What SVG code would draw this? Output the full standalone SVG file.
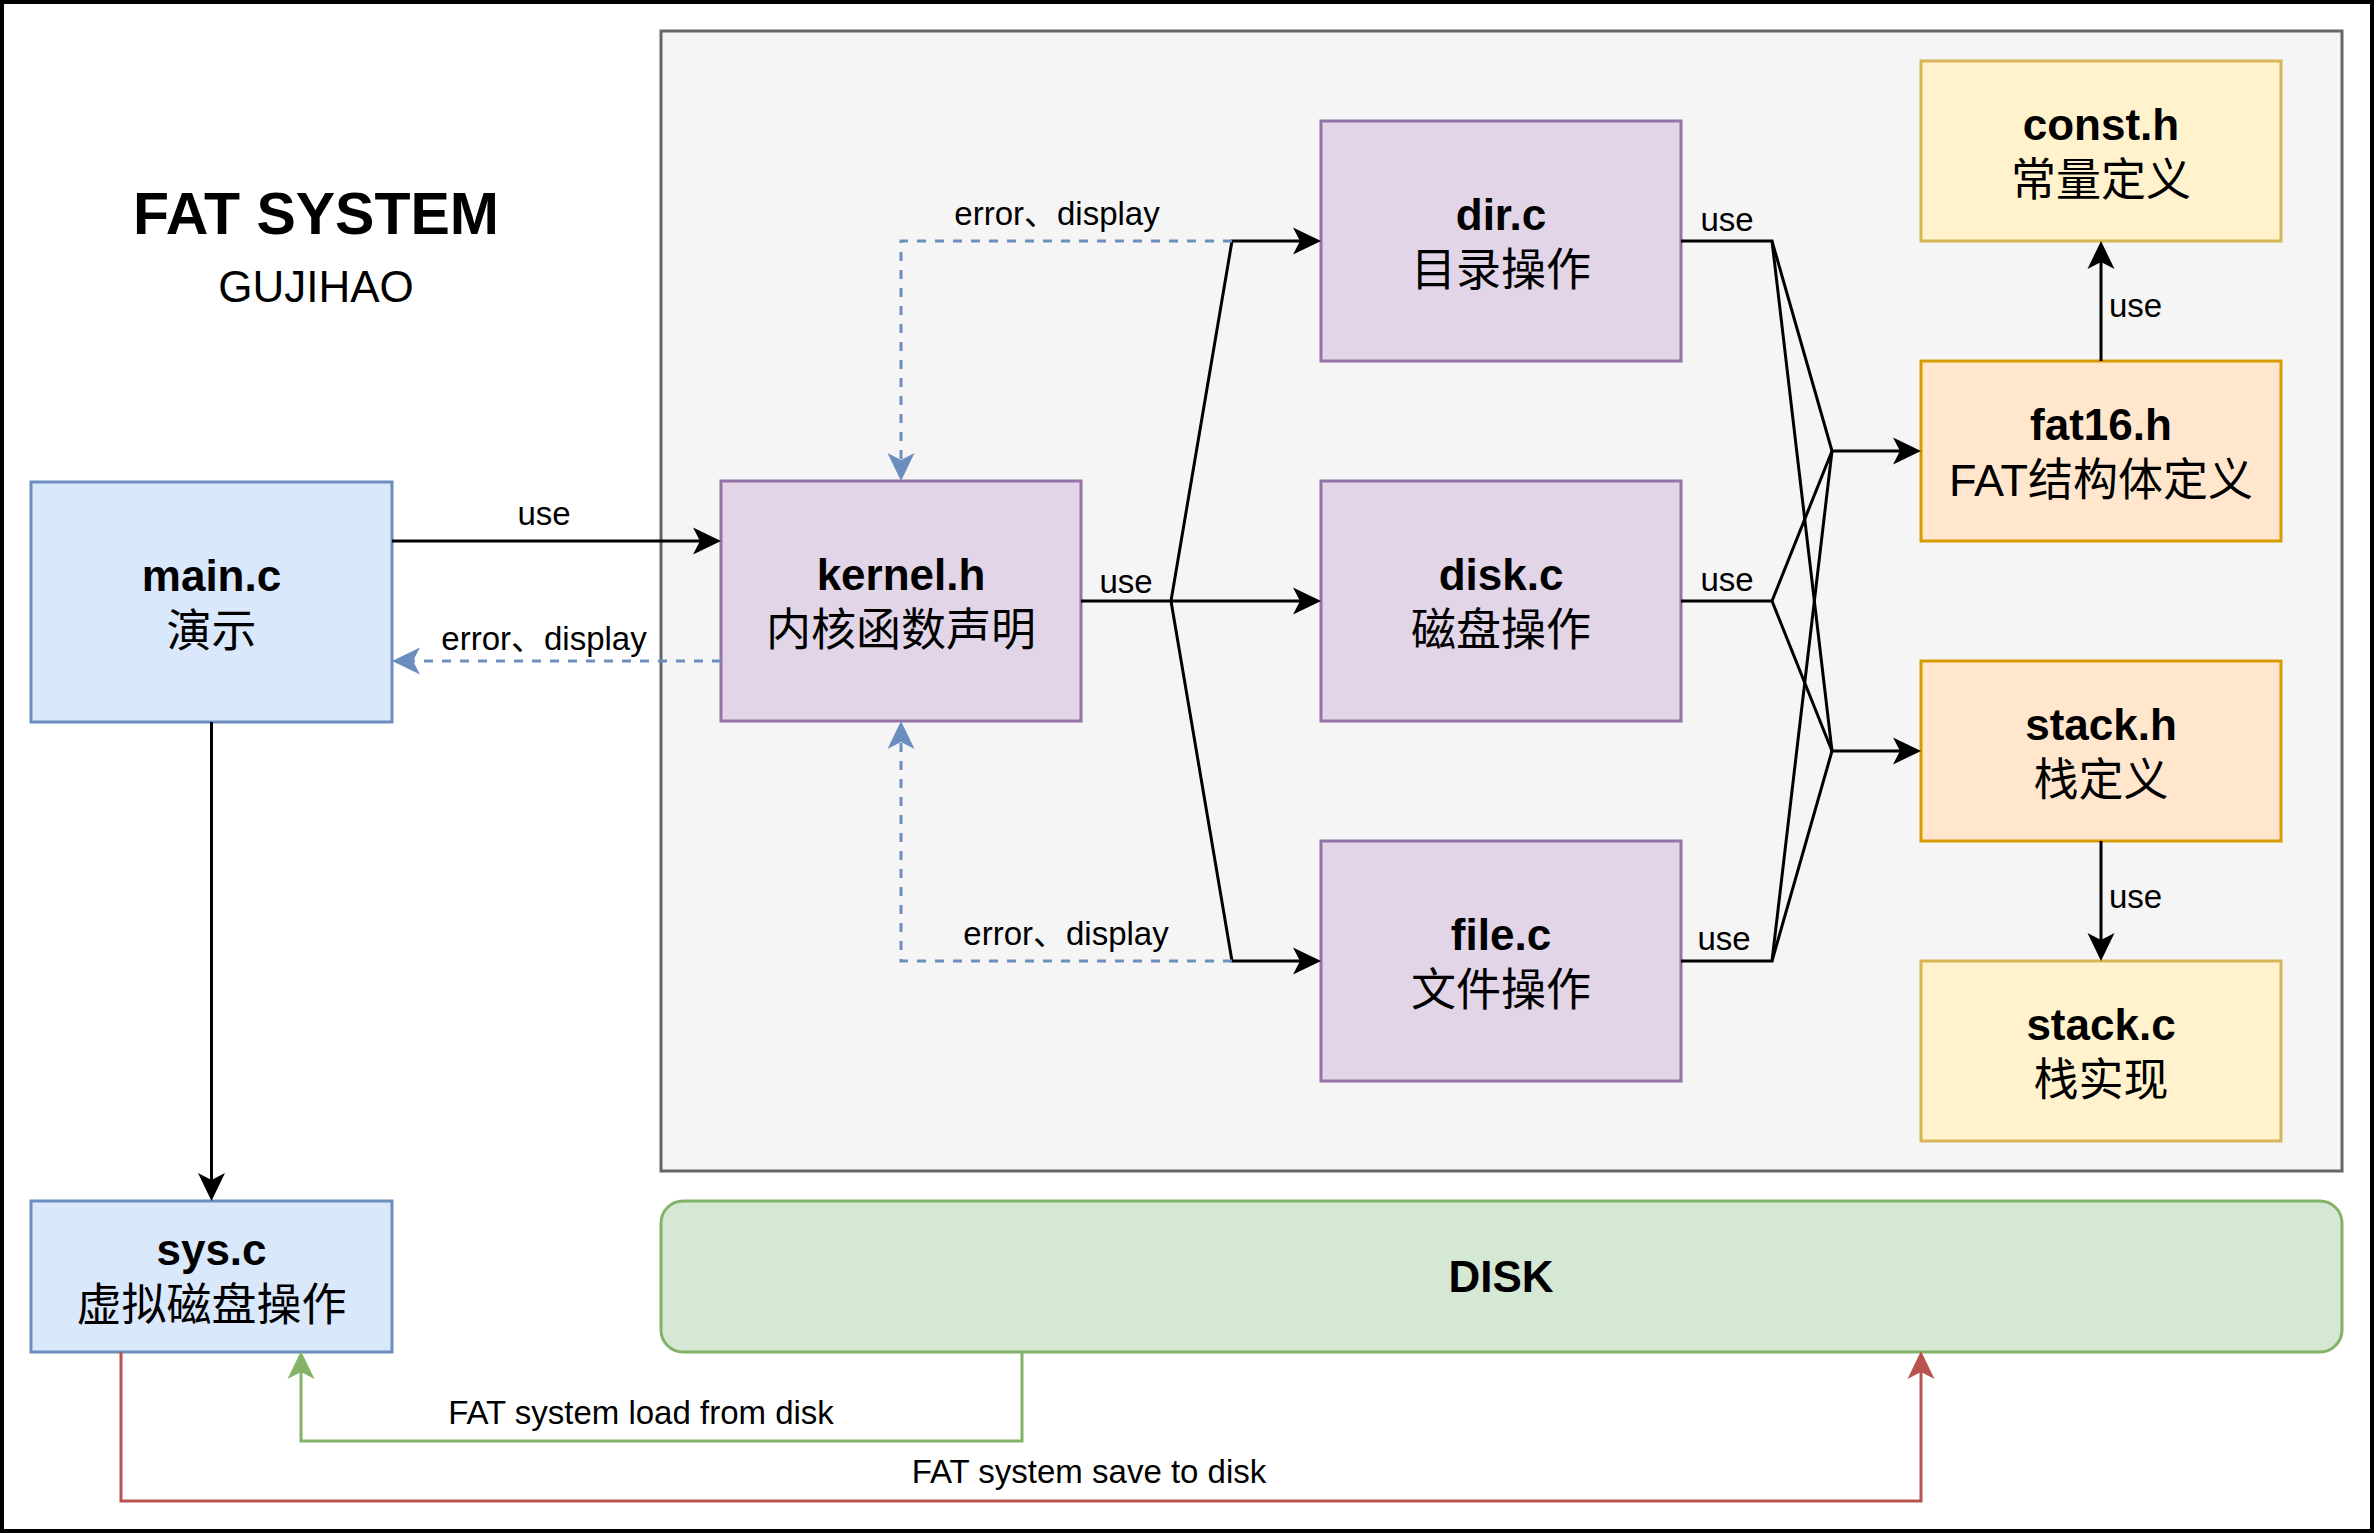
<svg xmlns="http://www.w3.org/2000/svg" width="2376" height="1533" viewBox="0 0 2376 1533">
<defs>
<style>
.t{font-family:"Liberation Sans","Noto Sans CJK SC",sans-serif;fill:#000}
.nb{font-size:44px;font-weight:bold;text-anchor:middle}
.nz{font-size:45px;text-anchor:middle;font-family:"Liberation Sans","Noto Sans CJK SC",sans-serif}
.lbl{font-size:33px}
.mid{text-anchor:middle}
.e{fill:none;stroke:#000;stroke-width:3}
.eb{fill:none;stroke:#6c8ebf;stroke-width:3;stroke-dasharray:9 9}
.purple{fill:#e1d5e7;stroke:#9673a6;stroke-width:3}
.blue{fill:#dae8fc;stroke:#6c8ebf;stroke-width:3}
.yellow{fill:#fff2cc;stroke:#d6b656;stroke-width:3}
.orange{fill:#ffe6cc;stroke:#d79b00;stroke-width:3}
</style>
<marker id="ak" viewBox="0 0 28 28" refX="20" refY="14" markerWidth="28" markerHeight="28" markerUnits="userSpaceOnUse" orient="auto"><path d="M28,14 L0,0.5 L7,14 L0,27.5 Z" fill="#000"/></marker>
<marker id="ab" viewBox="0 0 28 28" refX="20" refY="14" markerWidth="28" markerHeight="28" markerUnits="userSpaceOnUse" orient="auto"><path d="M28,14 L0,0.5 L7,14 L0,27.5 Z" fill="#6c8ebf"/></marker>
<marker id="ag" viewBox="0 0 28 28" refX="20" refY="14" markerWidth="28" markerHeight="28" markerUnits="userSpaceOnUse" orient="auto"><path d="M28,14 L0,0.5 L7,14 L0,27.5 Z" fill="#82b366"/></marker>
<marker id="ar" viewBox="0 0 28 28" refX="20" refY="14" markerWidth="28" markerHeight="28" markerUnits="userSpaceOnUse" orient="auto"><path d="M28,14 L0,0.5 L7,14 L0,27.5 Z" fill="#b85450"/></marker>
</defs>
<rect x="0" y="0" width="2376" height="1533" fill="#ffffff"/>
<rect x="2" y="2" width="2370" height="1529" fill="none" stroke="#000" stroke-width="4"/>

<g id="container">
<rect x="661" y="31" width="1681" height="1140" fill="#f5f5f5" stroke="#666666" stroke-width="3"/>
</g>

<g id="title">
<text class="t" x="316" y="234" font-size="59" font-weight="bold" text-anchor="middle">FAT SYSTEM</text>
<text class="t" x="316" y="302" font-size="44" text-anchor="middle">GUJIHAO</text>
</g>

<g id="main">
<rect class="blue" x="31" y="482" width="361" height="240"/>
<text class="t nb" x="211.5" y="591">main.c</text>
<text class="nz" x="211.5" y="647">演示</text>
</g>

<g id="sys">
<rect class="blue" x="31" y="1201" width="361" height="151"/>
<text class="t nb" x="211.5" y="1265">sys.c</text>
<text class="nz" x="211.5" y="1321">虚拟磁盘操作</text>
</g>

<g id="kernel">
<rect class="purple" x="721" y="481" width="360" height="240"/>
<text class="t nb" x="901" y="590">kernel.h</text>
<text class="nz" x="901" y="646">内核函数声明</text>
</g>

<g id="dir">
<rect class="purple" x="1321" y="121" width="360" height="240"/>
<text class="t nb" x="1501" y="230">dir.c</text>
<text class="nz" x="1501" y="286">目录操作</text>
</g>

<g id="disk">
<rect class="purple" x="1321" y="481" width="360" height="240"/>
<text class="t nb" x="1501" y="590">disk.c</text>
<text class="nz" x="1501" y="646">磁盘操作</text>
</g>

<g id="file">
<rect class="purple" x="1321" y="841" width="360" height="240"/>
<text class="t nb" x="1501" y="950">file.c</text>
<text class="nz" x="1501" y="1006">文件操作</text>
</g>

<g id="const">
<rect class="yellow" x="1921" y="61" width="360" height="180"/>
<text class="t nb" x="2101" y="140">const.h</text>
<text class="nz" x="2101" y="196">常量定义</text>
</g>

<g id="fat16">
<rect class="orange" x="1921" y="361" width="360" height="180"/>
<text class="t nb" x="2101" y="440">fat16.h</text>
<text class="nz" x="2101" y="496">FAT结构体定义</text>
</g>

<g id="stackh">
<rect class="orange" x="1921" y="661" width="360" height="180"/>
<text class="t nb" x="2101" y="740">stack.h</text>
<text class="nz" x="2101" y="796">栈定义</text>
</g>

<g id="stackc">
<rect class="yellow" x="1921" y="961" width="360" height="180"/>
<text class="t nb" x="2101" y="1040">stack.c</text>
<text class="nz" x="2101" y="1096">栈实现</text>
</g>

<g id="diskstore">
<rect x="661" y="1201" width="1681" height="151" rx="22" ry="22" fill="#d5e8d4" stroke="#82b366" stroke-width="3"/>
<text class="t nb" x="1501" y="1292">DISK</text>
</g>

<g id="connectors">
<path class="e" d="M392,541 H713" marker-end="url(#ak)"/>
<path class="eb" d="M721,661 H400" marker-end="url(#ab)"/>
<path class="e" d="M1081,601 H1313" marker-end="url(#ak)"/>
<path class="e" d="M1171,601 L1232,241 H1313" marker-end="url(#ak)"/>
<path class="e" d="M1171,601 L1232,961 H1313" marker-end="url(#ak)"/>
<path class="eb" d="M1232,241 H901 V473" marker-end="url(#ab)"/>
<path class="eb" d="M1232,961 H901 V729" marker-end="url(#ab)"/>
<path class="e" d="M1681,241 H1772 L1832,451 H1913" marker-end="url(#ak)"/>
<path class="e" d="M1772,241 L1832,751 H1913" marker-end="url(#ak)"/>
<path class="e" d="M1681,601 H1772 L1832,451"/>
<path class="e" d="M1772,601 L1832,751"/>
<path class="e" d="M1681,961 H1772 L1832,451"/>
<path class="e" d="M1772,961 L1832,751"/>
<path class="e" d="M2101,361 V249" marker-end="url(#ak)"/>
<path class="e" d="M2101,841 V953" marker-end="url(#ak)"/>
<path class="e" d="M211.5,722 V1193" marker-end="url(#ak)"/>
<path fill="none" stroke="#82b366" stroke-width="3" d="M1022,1352 V1441 H301 V1359" marker-end="url(#ag)"/>
<path fill="none" stroke="#b85450" stroke-width="3" d="M121,1352 V1501 H1921 V1359" marker-end="url(#ar)"/>

<text class="t lbl mid" x="544" y="525">use</text>
<text class="t lbl mid" x="544" y="650">error、display</text>
<text class="t lbl mid" x="1126" y="593">use</text>
<text class="t lbl mid" x="1057" y="225">error、display</text>
<text class="t lbl mid" x="1066" y="945">error、display</text>
<text class="t lbl mid" x="1727" y="231">use</text>
<text class="t lbl mid" x="1727" y="591">use</text>
<text class="t lbl mid" x="1724" y="950">use</text>
<text class="t lbl" x="2109" y="317">use</text>
<text class="t lbl" x="2109" y="908">use</text>
<text class="t lbl mid" x="641" y="1424">FAT system load from disk</text>
<text class="t lbl mid" x="1089" y="1483">FAT system save to disk</text>
</g>
</svg>
